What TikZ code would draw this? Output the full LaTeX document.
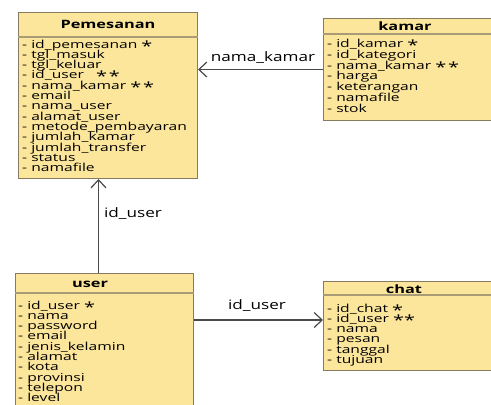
\documentclass[tikz,border=0pt]{standalone}
\usepackage{fontspec}
\usetikzlibrary{arrows.meta}
\newfontfamily\erfont[FakeStretch=1.42]{Open Sans}
\newfontfamily\lblfont[FakeStretch=1.32]{Open Sans}
\newcommand{\lowast}{\raisebox{-0.5ex}{\fontsize{14}{10}\selectfont *}}
\newcommand{\tightlines}{\setlength{\lineskiplimit}{-20pt}\setlength{\lineskip}{0pt}}
\definecolor{boxfill}{HTML}{FCE69C}
\definecolor{boxline}{HTML}{857B5E}
\definecolor{hdrline}{HTML}{A89B76}
\definecolor{conncol}{HTML}{4A4A4A}
\tikzset{
  ebox/.style={draw=boxline, fill=boxfill, line width=1pt, anchor=north west, inner sep=0pt},
  hline/.style={draw=hdrline, line width=1.2pt},
  etitle/.style={font=\erfont\bfseries\fontsize{11.5}{12}\selectfont, inner sep=0pt},
  attrs/.style={font=\erfont\fontsize{11}{10.3}\selectfont\tightlines, align=left, inner sep=0pt, anchor=north west},
  lbl/.style={font=\lblfont\fontsize{13}{14}\selectfont, inner sep=0pt},
  conn/.style={draw=conncol, line width=1.2pt, -{Straight Barb[length=8pt,width=15pt,line width=1.2pt]}}
}
\begin{document}
\begin{tikzpicture}[x=1pt,y=-1pt]
\useasboundingbox (0,0) rectangle (491,405);
\clip (0,0) rectangle (491,405);
\fill[white] (0,0) rectangle (491,405);

% Pemesanan
\node[ebox, minimum width=179pt, minimum height=166pt] (pem) at (18,12) {};
\draw[hline] ([yshift=-25pt]pem.north west) -- ([yshift=-25pt]pem.north east);
\node[etitle] (pemT) at ([yshift=-12pt]pem.north) {Pemesanan};
\node[attrs] (pemA) at ([xshift=4pt,yshift=-27.5pt]pem.north west) {%
- id\_pemesanan \lowast\\
- tgl\_masuk\\
- tgl\_keluar\\
- id\_user \ \ \lowast\,\lowast\\
- nama\_kamar \lowast\,\lowast\\
- email\\
- nama\_user\\
- alamat\_user\\
- metode\_pembayaran\\
- jumlah\_kamar\\
- jumlah\_transfer\\
- status\\
- namafile};

% kamar
\node[ebox, minimum width=172pt, minimum height=102pt] (kam) at (323,18) {};
\draw[hline] ([yshift=-16pt]kam.north west) -- ([yshift=-16pt]kam.north east);
\node[etitle] (kamT) at (405,26) {kamar};
\node[attrs, font=\erfont\fontsize{11}{10.8}\selectfont\tightlines] (kamA) at ([xshift=4pt,yshift=-21pt]kam.north west) {%
- id\_kamar \lowast\\
- id\_kategori\\
- nama\_kamar \lowast\,\lowast\\
- harga\\
- keterangan\\
- namafile\\
- stok};

% user
\node[ebox, minimum width=178pt, minimum height=140pt] (usr) at (15,273) {};
\draw[hline] ([yshift=-20pt]usr.north west) -- ([yshift=-20pt]usr.north east);
\node[etitle] (usrT) at (90,284) {user};
\node[attrs] (usrA) at ([xshift=3pt,yshift=-27.5pt]usr.north west) {%
- id\_user \lowast\\
- nama\\
- password\\
- email\\
- jenis\_kelamin\\
- alamat\\
- kota\\
- provinsi\\
- telepon\\
- level};

% chat
\node[ebox, minimum width=172pt, minimum height=89pt] (cht) at (323,281) {};
\draw[hline] ([yshift=-14pt]cht.north west) -- ([yshift=-14pt]cht.north east);
\node[etitle] (chtT) at (404,289) {chat};
\node[attrs] (chtA) at ([xshift=4pt,yshift=-22.5pt]cht.north west) {%
- id\_chat \lowast\\
- id\_user \lowast\lowast\\
- nama\\
- pesan\\
- tanggal\\
- tujuan};

% connectors
\draw[conn] (kam.west) -- (kam.west -| pem.east);
\node[lbl] (l1) at (263,58) {nama\_kamar};
\coordinate (uTop) at ([xshift=-6pt]usr.north);
\draw[conn] (uTop) -- (uTop |- pem.south);
\node[lbl] (l2) at (133,214) {id\_user};
\coordinate (cIn) at ([yshift=6pt]cht.west);
\draw[conn] (cIn -| usr.east) -- (cIn);
\node[lbl] (l3) at (257,306) {id\_user};
\end{tikzpicture}
\end{document}
